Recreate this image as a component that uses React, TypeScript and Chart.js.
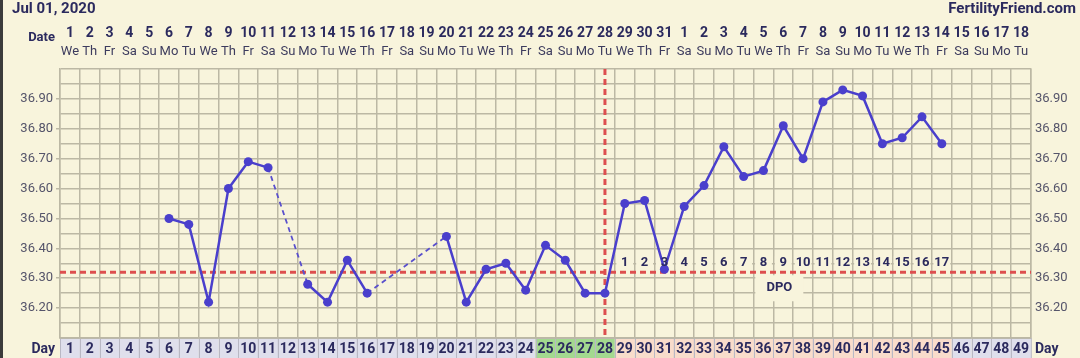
import React, { useEffect, useRef } from "react";
import { Chart, registerables } from "chart.js";

Chart.register(...registerables);

// ---------- DATA ----------
const cycleDays = [
  1, 2, 3, 4, 5, 6, 7, 8, 9, 10, 11, 12, 13, 14, 15, 16, 17, 18, 19, 20, 21, 22, 23, 24, 25,
  26, 27, 28, 29, 30, 31, 32, 33, 34, 35, 36, 37, 38, 39, 40, 41, 42, 43, 44, 45, 46, 47, 48, 49,
];
const dateNumbers = [
  1, 2, 3, 4, 5, 6, 7, 8, 9, 10, 11, 12, 13, 14, 15, 16, 17, 18, 19, 20, 21, 22, 23, 24, 25,
  26, 27, 28, 29, 30, 31, 1, 2, 3, 4, 5, 6, 7, 8, 9, 10, 11, 12, 13, 14, 15, 16, 17, 18,
];
const weekdays = [
  "We", "Th", "Fr", "Sa", "Su", "Mo", "Tu",
  "We", "Th", "Fr", "Sa", "Su", "Mo", "Tu",
  "We", "Th", "Fr", "Sa", "Su", "Mo", "Tu",
  "We", "Th", "Fr", "Sa", "Su", "Mo", "Tu",
  "We", "Th", "Fr", "Sa", "Su", "Mo", "Tu",
  "We", "Th", "Fr", "Sa", "Su", "Mo", "Tu",
  "We", "Th", "Fr", "Sa", "Su", "Mo", "Tu",
];
const temperatures: (number | null)[] = [
  null, null, null, null, null, 36.5, 36.48, 36.22, 36.6, 36.69, 36.67, null, 36.28, 36.22,
  36.36, 36.25, null, null, null, 36.44, 36.22, 36.33, 36.35, 36.26, 36.41, 36.36, 36.25,
  36.25, 36.55, 36.56, 36.33, 36.54, 36.61, 36.74, 36.64, 36.66, 36.81, 36.7, 36.89, 36.93,
  36.91, 36.75, 36.77, 36.84, 36.75, null, null, null, null,
];
const fertileDays = [25, 26, 27, 28];
const dpoDays = [29, 30, 31, 32, 33, 34, 35, 36, 37, 38, 39, 40, 41, 42, 43, 44, 45];
const dpoNumbers = [1, 2, 3, 4, 5, 6, 7, 8, 9, 10, 11, 12, 13, 14, 15, 16, 17];
const yLabelValues = [36.2, 36.3, 36.4, 36.5, 36.6, 36.7, 36.8, 36.9];
const coverline = 36.32;
const ovulationDay = 28;
const chartTitle = "Jul 01, 2020";
const siteName = "FertilityFriend.com";

// ---------- STYLE ----------
const BG = "#f8f4dc";
const GRID = "#bcb8a4";
const NAVY = "#2b2a5e";
const LINE = "#4a3fcc";
const RED = "#dd4f4f";
const FONT = "Roboto, 'Liberation Sans', sans-serif";

export default function App() {
  const ref = useRef<HTMLCanvasElement>(null);

  useEffect(() => {
    document.body.style.margin = "0";
    const canvas = ref.current;
    if (!canvas) return;

    const isLabelTick = (v: number) =>
      yLabelValues.some((l) => Math.abs(l - v) < 0.001);
    const fmt = (v: number) => (isLabelTick(v) ? Number(v).toFixed(2) : "");
    const gap = (ctx: any) => !!(ctx.p0 && ctx.p0.skip) || !!(ctx.p1 && ctx.p1.skip);

    const decor = {
      id: "ffDecor",
      beforeDraw(chart: any) {
        const { ctx, width, height } = chart;
        ctx.save();
        ctx.fillStyle = BG;
        ctx.fillRect(0, 0, width, height);
        ctx.fillStyle = "#3b3b3b";
        ctx.fillRect(0, 0, 3, height);
        ctx.restore();
      },
      beforeDatasetsDraw(chart: any) {
        const { ctx, chartArea } = chart;
        const xs = chart.scales.x;
        const ys = chart.scales.y;
        const colW = xs.width / cycleDays.length;
        const cy = ys.getPixelForValue(coverline);
        ctx.save();
        // background boxes behind DPO numbers
        ctx.fillStyle = BG;
        dpoDays.forEach((d) => {
          const cx = xs.getPixelForValue(cycleDays.indexOf(d));
          ctx.fillRect(cx - colW / 2 + 1.5, cy - 16, colW - 3, 13);
        });
        // DPO label box
        const dx = xs.getPixelForValue(35.8);
        ctx.fillRect(dx - 24, cy + 3, 48, 26);
        // coverline
        ctx.strokeStyle = RED;
        ctx.lineWidth = 3;
        ctx.setLineDash([6, 4]);
        ctx.beginPath();
        ctx.moveTo(chartArea.left, cy);
        ctx.lineTo(chartArea.right, cy);
        ctx.stroke();
        // ovulation line
        const ox = xs.getPixelForValue(cycleDays.indexOf(ovulationDay));
        ctx.beginPath();
        ctx.moveTo(ox, chartArea.top);
        ctx.lineTo(ox, chartArea.bottom);
        ctx.stroke();
        ctx.restore();
      },
      afterDraw(chart: any) {
        const { ctx, chartArea, height } = chart;
        const xs = chart.scales.x;
        const ys = chart.scales.y;
        const colW = xs.width / cycleDays.length;
        const cy = ys.getPixelForValue(coverline);
        ctx.save();
        ctx.textBaseline = "middle";

        // title + site
        ctx.fillStyle = NAVY;
        ctx.font = `bold 15px ${FONT}`;
        ctx.textAlign = "left";
        ctx.fillText(chartTitle, 12, 9);
        ctx.textAlign = "right";
        ctx.fillText(siteName, 1076, 9);

        // Date header
        ctx.font = `bold 13px ${FONT}`;
        ctx.textAlign = "right";
        ctx.fillText("Date", 55, 38);
        cycleDays.forEach((d, i) => {
          const cx = xs.getPixelForValue(i);
          ctx.font = `bold 14px ${FONT}`;
          ctx.fillStyle = NAVY;
          ctx.textAlign = "center";
          ctx.fillText(String(dateNumbers[i]), cx, 33);
          ctx.font = `13px ${FONT}`;
          ctx.fillStyle = "#3d3c5e";
          ctx.fillText(weekdays[i], cx, 52);
        });

        // DPO numbers
        ctx.fillStyle = NAVY;
        ctx.font = `bold 13px ${FONT}`;
        ctx.textAlign = "center";
        dpoDays.forEach((d, i) => {
          const cx = xs.getPixelForValue(cycleDays.indexOf(d));
          ctx.fillText(String(dpoNumbers[i]), cx, cy - 9);
        });
        ctx.fillText("DPO", xs.getPixelForValue(35.8), cy + 16);

        // Day row
        const top = chartArea.bottom;
        cycleDays.forEach((d, i) => {
          const cx = xs.getPixelForValue(i);
          const left = cx - colW / 2;
          let fill = "#dfdfec";
          if (fertileDays.includes(d)) fill = "#a3d98f";
          else if (dpoDays.includes(d)) fill = "#f9dccb";
          ctx.fillStyle = fill;
          ctx.fillRect(left, top, colW, height - top);
          ctx.strokeStyle = "#b9b8c4";
          ctx.lineWidth = 1;
          ctx.strokeRect(Math.round(left) + 0.5, top + 0.5, colW, height - top + 2);
        });
        ctx.fillStyle = NAVY;
        ctx.font = `bold 14px ${FONT}`;
        ctx.textAlign = "center";
        cycleDays.forEach((d, i) => {
          ctx.fillText(String(d), xs.getPixelForValue(i), top + 11);
        });
        ctx.textAlign = "right";
        ctx.fillText("Day", 55, top + 11);
        ctx.textAlign = "left";
        ctx.fillText("Day", 1035, top + 11);

        // grid bottom border
        ctx.strokeStyle = GRID;
        ctx.lineWidth = 1.5;
        ctx.beginPath();
        ctx.moveTo(chartArea.left, top);
        ctx.lineTo(chartArea.right, top);
        ctx.stroke();
        ctx.restore();
      },
    };

    const chart = new Chart(canvas, {
      type: "line",
      data: {
        labels: cycleDays.map(String),
        datasets: [
          {
            data: temperatures,
            borderColor: LINE,
            backgroundColor: LINE,
            pointBackgroundColor: LINE,
            pointBorderColor: LINE,
            pointBorderWidth: 0,
            pointRadius: 4.5,
            borderWidth: 2.5,
            tension: 0,
            spanGaps: true,
            segment: {
              borderDash: (c: any) => (gap(c) ? [5, 4] : undefined),
              borderWidth: (c: any) => (gap(c) ? 1.8 : undefined),
              borderColor: (c: any) => (gap(c) ? "#5a50cc" : undefined),
            },
          },
        ],
      },
      plugins: [decor],
      options: {
        responsive: false,
        animation: false,
        devicePixelRatio: 1,
        layout: { padding: { top: 69, left: 0, right: 0, bottom: 0 } },
        plugins: { legend: { display: false }, tooltip: { enabled: false } },
        scales: {
          x: {
            type: "category",
            offset: true,
            grid: { offset: true, color: GRID, lineWidth: 1.5, drawTicks: false },
            border: { display: true, color: GRID, width: 1.5 },
            ticks: { display: false },
            afterFit: (s: any) => {
              s.height = 20;
            },
          },
          y: {
            position: "left",
            min: 36.1,
            max: 37.0,
            grid: {
              color: GRID,
              lineWidth: 1.5,
              tickLength: 4,
              tickColor: (c: any) => (c.tick && c.tick.label ? GRID : "rgba(0,0,0,0)"),
            },
            border: { display: true, color: GRID, width: 1.5 },
            ticks: {
              stepSize: 0.05,
              maxTicksLimit: 100,
              autoSkip: false,
              padding: 3,
              color: "#55546a",
              font: { size: 13, family: FONT },
              callback: (v: any) => fmt(Number(v)),
            },
            afterFit: (s: any) => {
              s.width = 60;
            },
          },
          y2: {
            position: "right",
            min: 36.1,
            max: 37.0,
            grid: { display: false, drawTicks: false },
            border: { display: true, color: GRID, width: 1.5 },
            ticks: {
              stepSize: 0.05,
              maxTicksLimit: 100,
              autoSkip: false,
              padding: 4,
              color: "#55546a",
              font: { size: 13, family: FONT },
              callback: (v: any) => fmt(Number(v)),
            },
            afterFit: (s: any) => {
              s.width = 49;
            },
          },
        },
      },
    } as any);

    return () => chart.destroy();
  }, []);

  return (
    <div style={{ position: "fixed", left: 0, top: 0, width: 1080, height: 358, background: BG }}>
      <canvas ref={ref} width={1080} height={358} style={{ display: "block" }} />
    </div>
  );
}
